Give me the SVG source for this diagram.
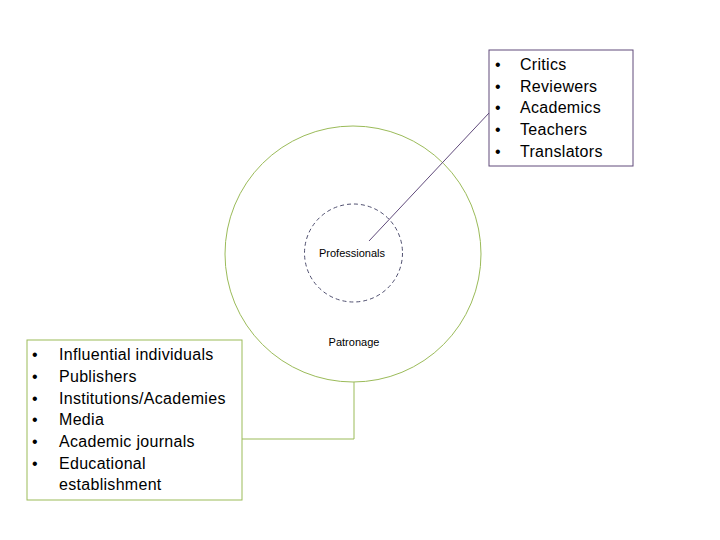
<svg xmlns="http://www.w3.org/2000/svg" width="720" height="540" viewBox="0 0 720 540">
<style>
.txt{font-family:"Liberation Sans","DejaVu Sans",sans-serif;fill:#000}
.list{font-size:16px;letter-spacing:0.3px}
.lbl{font-size:11px;text-anchor:middle}
.green{fill:none;stroke:#9bbb59;stroke-width:1}
.purple{fill:none;stroke:#604a7b;stroke-width:1}
</style>
<rect width="720" height="540" fill="#fff"/>
<g id="patronage">
<circle class="green" cx="353" cy="254" r="128"/>
<text class="txt lbl" x="354" y="346">Patronage</text>
</g>
<g id="professionals">
<circle cx="353.5" cy="253" r="49" fill="none" stroke="#4f4f6f" stroke-width="1" stroke-dasharray="4,3"/>
<text class="txt lbl" x="352" y="257">Professionals</text>
</g>
<g id="connectors">
<line class="purple" x1="369" y1="241" x2="489" y2="113"/>
<polyline class="green" points="354,382 354,439 242,439"/>
</g>
<g id="professionals-list">
<rect class="purple" x="489" y="50" width="144" height="116"/>
<g class="txt list">
<text x="495" y="70">•</text><text x="520" y="70">Critics</text>
<text x="495" y="92">•</text><text x="520" y="92">Reviewers</text>
<text x="495" y="113">•</text><text x="520" y="113">Academics</text>
<text x="495" y="135">•</text><text x="520" y="135">Teachers</text>
<text x="495" y="157">•</text><text x="520" y="157">Translators</text>
</g>
</g>
<g id="patronage-list">
<rect class="green" x="27" y="340" width="215" height="160"/>
<g class="txt list">
<text x="32" y="360">•</text><text x="59" y="360">Influential individuals</text>
<text x="32" y="382">•</text><text x="59" y="382">Publishers</text>
<text x="32" y="404">•</text><text x="59" y="404">Institutions/Academies</text>
<text x="32" y="425">•</text><text x="59" y="425">Media</text>
<text x="32" y="447">•</text><text x="59" y="447">Academic journals</text>
<text x="32" y="469">•</text><text x="59" y="469">Educational</text>
<text x="59" y="490">establishment</text>
</g>
</g>
</svg>
